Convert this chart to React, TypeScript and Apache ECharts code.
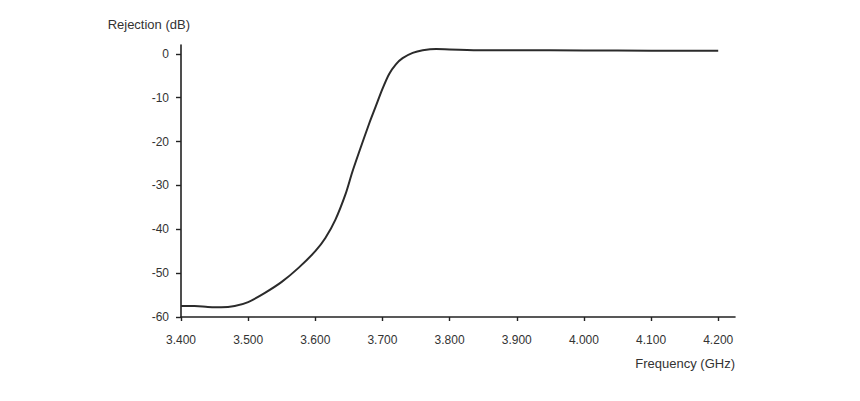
import React, { useEffect, useRef } from "react";
import * as echarts from "echarts";

const frequencyGHz = [
  3.4, 3.42, 3.44, 3.46, 3.48, 3.5, 3.525, 3.55, 3.575, 3.6, 3.615, 3.63, 3.645,
  3.655, 3.665, 3.68, 3.69, 3.7, 3.71, 3.72, 3.73, 3.745, 3.76, 3.78, 3.8, 3.85,
  3.9, 4.0, 4.1, 4.2,
];
const rejectionDb = [
  -57.5, -57.5, -57.7, -57.8, -57.5, -56.6, -54.5, -52.0, -48.8, -45.0, -42.0,
  -37.8, -32.0, -27.0, -22.5, -16.0, -12.0, -8.0, -4.6, -2.4, -1.0, 0.2, 0.8,
  1.1, 1.0, 0.8, 0.8, 0.75, 0.7, 0.7,
];
const xTicks = [3.4, 3.5, 3.6, 3.7, 3.8, 3.9, 4.0, 4.1, 4.2];
const yTicks = [-60, -50, -40, -30, -20, -10, 0];

const FONT = "'Liberation Sans', Arial, sans-serif";

export default function App() {
  const ref = useRef<HTMLDivElement>(null);
  useEffect(() => {
    if (!ref.current) return;
    const chart = echarts.init(ref.current, null, { renderer: "svg" });
    chart.setOption({
      animation: false,
      backgroundColor: "#ffffff",
      grid: { left: 181, right: 125, top: 45, bottom: 84 },
      xAxis: {
        type: "value",
        min: 3.4,
        max: 4.225,
        name: "Frequency (GHz)",
        nameLocation: "end",
        nameGap: 0,
        nameTextStyle: {
          align: "right",
          verticalAlign: "top",
          padding: [40, 0, 0, 0],
          fontSize: 13,
          color: "#333",
          fontFamily: FONT,
        },
        axisLine: { show: true, onZero: false, lineStyle: { color: "#222", width: 1.6 } },
        axisTick: { show: true, length: 4, customValues: xTicks, lineStyle: { color: "#222", width: 1.4 } },
        axisLabel: {
          customValues: xTicks,
          formatter: (v: number) => v.toFixed(3),
          fontSize: 12,
          color: "#333",
          fontFamily: FONT,
          margin: 17,
        },
        splitLine: { show: false },
      },
      yAxis: {
        type: "value",
        min: -60,
        max: 2,
        name: "Rejection (dB)",
        nameLocation: "end",
        nameGap: 14,
        nameTextStyle: {
          align: "right",
          padding: [0, -9, 0, 0],
          fontSize: 13,
          color: "#333",
          fontFamily: FONT,
        },
        axisLine: { show: true, onZero: false, lineStyle: { color: "#222", width: 1.6 } },
        axisTick: { show: true, length: 5, customValues: yTicks, lineStyle: { color: "#222", width: 1.4 } },
        axisLabel: {
          customValues: yTicks,
          fontSize: 12,
          color: "#333",
          fontFamily: FONT,
          margin: 12,
        },
        splitLine: { show: false },
      },
      series: [
        {
          type: "line",
          data: frequencyGHz.map((f, i) => [f, rejectionDb[i]]),
          smooth: 0.3,
          showSymbol: false,
          lineStyle: { color: "#2b2b2b", width: 2 },
        },
      ],
    });
    return () => chart.dispose();
  }, []);
  return <div ref={ref} style={{ width: 860, height: 401, position: "absolute", left: 0, top: 0 }} />;
}
